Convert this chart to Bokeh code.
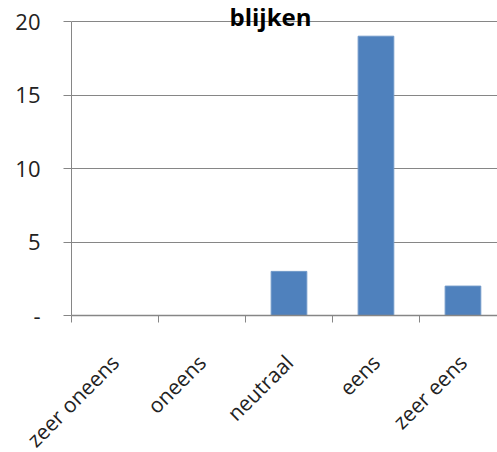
import math
from bokeh.plotting import figure
from bokeh.models import FixedTicker, Label, ColumnDataSource
from bokeh.embed import file_html
from bokeh.resources import INLINE

categories = ["zeer oneens", "oneens", "neutraal", "eens", "zeer eens"]
values = [0, 0, 3, 19, 2]
y_ticks = [0, 5, 10, 15, 20]
y_tick_labels = {0: "-", 5: "5", 10: "10", 15: "15", 20: "20"}
title_text = "blijken"

centers = [i + 0.5 for i in range(len(categories))]
bounds = list(range(len(categories) + 1))
src = ColumnDataSource(dict(x=centers, top=values, cat=categories))

FONT = "Open Sans"
GRAY = "#868686"
p = figure(width=497, height=470, output_backend="svg", toolbar_location=None,
           x_range=(0, 4.897), y_range=(0, 21.43),
           min_border_left=71, min_border_top=0, min_border_right=0, min_border_bottom=155)
p.outline_line_color = None
p.background_fill_color = "white"

p.vbar(x="x", top="top", bottom=0, width=0.41, source=src,
       fill_color="#4F81BD", line_color="#6E97C8", line_width=1)

# x axis
p.xaxis.ticker = FixedTicker(ticks=centers, minor_ticks=bounds)
p.xaxis.major_label_overrides = {c: lab for c, lab in zip(centers, categories)}
p.xaxis.major_tick_line_color = None
p.xaxis.minor_tick_out = 7
p.xaxis.minor_tick_in = 0
p.xaxis.minor_tick_line_color = GRAY
p.xaxis.axis_line_color = GRAY
p.xaxis.axis_line_width = 1.5
p.xaxis.major_label_orientation = math.pi / 4
p.xaxis.major_label_text_font = FONT
p.xaxis.major_label_text_font_size = "21px"
p.xaxis.major_label_text_color = "#222222"
p.xaxis.major_label_standoff = 36

# y axis
p.yaxis.ticker = FixedTicker(ticks=y_ticks)
p.yaxis.bounds = (0, 20)
p.yaxis.major_label_overrides = y_tick_labels
p.yaxis.major_tick_out = 8
p.yaxis.major_tick_in = 0
p.yaxis.major_tick_line_color = GRAY
p.yaxis.minor_tick_line_color = None
p.yaxis.axis_line_color = GRAY
p.yaxis.major_label_text_font = FONT
p.yaxis.major_label_text_font_size = "22px"
p.yaxis.major_label_text_color = "#222222"
p.yaxis.major_label_standoff = 23

p.xgrid.grid_line_color = None
p.ygrid.grid_line_color = GRAY
p.ygrid.grid_line_width = 1

p.add_layout(Label(x=199, y=299, x_units="screen", y_units="screen", text=title_text,
                   text_font=FONT, text_font_style="bold", text_font_size="24px",
                   text_align="center", text_baseline="middle", text_color="black"))

open("out.html", "w").write(file_html(p, INLINE))
